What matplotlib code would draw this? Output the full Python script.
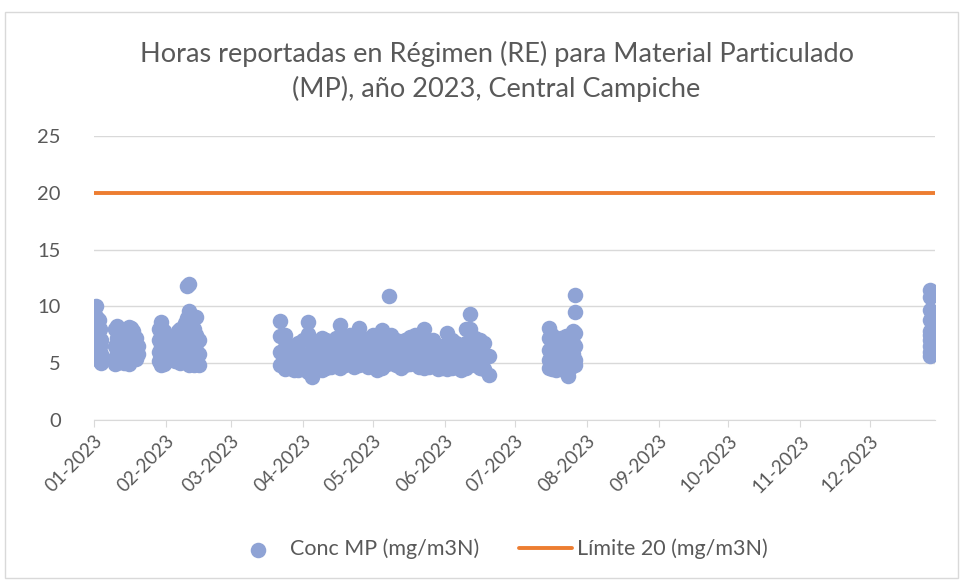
import matplotlib.pyplot as plt
import matplotlib.dates as mdates
import pandas as pd
from matplotlib.patches import Rectangle

plt.rcParams['font.family'] = ['Lato', 'DejaVu Sans']

# dias desde 01-01-2023 y concentracion MP (mg/m3N)
dias_ene = [0.5, 0.5, 0.5, 0.5, 0.5, 1, 1, 1, 1, 1, 1.5, 1.5, 1.5, 1.5,
            2, 2, 2, 2, 2.5, 2.5, 2.5, 3, 3, 3]
conc_ene = [9.2, 8.0, 7.0, 6.0, 5.8, 10.0, 8.5, 7.5, 6.5, 5.5, 9.0, 7.8, 6.8, 5.6,
            8.8, 7.2, 6.2, 5.3, 8.0, 6.5, 5.2, 7.0, 5.8, 5.0]

dias_ene2 = [9, 9, 9, 9, 10, 10, 10, 10, 11, 11, 11, 12, 12, 12, 13, 13, 13,
             14, 14, 14, 15, 15, 15, 15, 16, 16, 16, 17, 17, 17, 18, 18, 18, 19, 19]
conc_ene2 = [8.0, 6.5, 5.5, 4.9, 8.3, 7.2, 6.0, 5.0, 7.5, 6.2, 5.2, 7.8, 6.8, 5.6, 7.0, 6.0, 5.0,
             7.6, 6.4, 5.3, 8.2, 7.0, 5.8, 4.9, 8.1, 6.6, 5.5, 7.8, 6.8, 5.6, 7.2, 6.0, 5.4, 6.5, 5.8]

dias_feb = [28, 28, 28, 28, 29, 29, 29, 29, 29, 30, 30, 30, 30, 31, 31]
conc_feb = [8.0, 7.0, 6.0, 5.2, 8.6, 7.5, 6.5, 5.5, 4.8, 7.8, 6.8, 5.8, 4.9, 7.0, 5.6]

dias_feb2 = [35, 35, 35, 36, 36, 36, 37, 37, 37, 37, 38, 38, 38, 39, 39, 39, 39,
             40, 40, 40, 40, 40, 41, 41, 41, 41, 41, 41, 42, 42, 42, 42,
             43, 43, 43, 43, 44, 44, 44, 44, 45, 45, 45]
conc_feb2 = [7.2, 6.2, 5.2, 7.8, 6.6, 5.5, 8.0, 7.0, 5.8, 5.0, 7.2, 6.3, 5.4, 8.5, 7.4, 6.0, 5.1,
             11.8, 9.0, 7.6, 6.4, 5.2, 12.0, 9.6, 8.2, 7.0, 5.8, 4.8, 8.6, 7.3, 6.0, 5.0,
             8.0, 7.0, 6.2, 4.8, 9.1, 7.5, 6.2, 5.2, 7.0, 5.8, 4.8]

dias_abr = [80, 80, 80, 80, 82, 82, 82, 82, 84, 84, 84, 86, 86, 86, 88, 88, 88, 88,
            90, 90, 90, 92, 92, 92, 92, 94, 94, 94, 96, 96, 96, 98, 98, 98, 98,
            100, 100, 100, 102, 102, 102, 104, 104, 104, 106, 106, 106, 106,
            108, 108, 108, 110, 110, 110, 112, 112, 112, 114, 114, 114, 114,
            116, 116, 116, 118, 118, 118, 120, 120, 120, 122, 122, 122, 124, 124, 124, 124,
            126, 126, 126, 127, 128, 128, 128, 130, 130, 130, 132, 132, 132,
            134, 134, 134, 136, 136, 136, 138, 138, 138, 140, 140, 140, 142, 142, 142, 142,
            144, 144, 144, 146, 146, 146, 148, 148, 148, 150, 150, 150, 152, 152, 152, 152,
            154, 154, 154, 156, 156, 156, 158, 158, 158, 160, 160, 160, 160,
            162, 162, 162, 162, 164, 164, 164, 166, 166, 166, 168, 168, 168, 170, 170]
conc_abr = [8.7, 7.4, 6.0, 4.8, 7.5, 6.4, 5.4, 4.5, 6.6, 5.6, 4.6, 6.5, 5.5, 4.4, 6.8, 5.8, 5.0, 4.4,
            7.0, 5.6, 4.5, 8.6, 7.6, 5.8, 4.2, 6.8, 5.5, 3.8, 6.4, 5.4, 4.5, 7.2, 6.2, 5.2, 4.4,
            7.0, 5.8, 4.6, 6.6, 5.6, 4.7, 7.2, 6.0, 4.8, 8.4, 7.2, 5.8, 4.6,
            7.0, 5.8, 4.8, 7.5, 6.2, 4.9, 6.8, 5.6, 4.7, 8.1, 7.0, 5.8, 4.8,
            7.2, 6.0, 4.9, 7.0, 5.8, 4.7, 7.5, 6.2, 4.8, 6.8, 5.6, 4.4, 7.9, 6.8, 5.6, 4.6,
            7.2, 6.0, 4.9, 10.9, 7.5, 6.2, 5.0, 7.0, 5.8, 4.8, 6.8, 5.6, 4.6,
            7.0, 5.8, 4.8, 7.3, 6.0, 4.9, 7.5, 6.2, 5.0, 6.8, 5.7, 4.7, 8.0, 7.0, 5.8, 4.6,
            6.8, 5.6, 4.7, 7.0, 5.8, 4.8, 6.2, 5.3, 4.5, 6.5, 5.5, 4.6, 7.7, 6.6, 5.4, 4.5,
            7.0, 5.8, 4.6, 6.8, 5.6, 4.7, 6.5, 5.4, 4.4, 8.0, 6.8, 5.6, 4.6,
            9.3, 8.0, 6.4, 5.0, 7.2, 6.0, 4.8, 7.0, 5.8, 4.6, 6.8, 5.6, 4.5, 5.6, 4.0]

dias_jul = [196, 196, 196, 196, 196, 197, 197, 197, 197, 198, 198, 198, 199, 199, 199, 199,
            200, 200, 200, 201, 201, 201, 201, 202, 202, 202, 203, 203, 203, 203,
            204, 204, 204, 204, 205, 205, 205, 205, 206, 206, 206, 206,
            207, 207, 207, 207, 207, 207]
conc_jul = [8.1, 7.2, 6.2, 5.3, 4.6, 7.5, 6.5, 5.5, 4.5, 6.8, 5.8, 4.8, 7.0, 6.0, 5.0, 4.4,
            6.8, 5.6, 4.6, 7.2, 6.3, 5.2, 4.5, 6.9, 5.9, 4.8, 7.4, 6.4, 5.4, 4.4,
            7.0, 6.0, 5.0, 3.9, 7.5, 6.6, 5.5, 4.6, 7.8, 6.8, 5.8, 4.8,
            11.0, 9.5, 7.7, 6.5, 5.3, 4.8]

dias_dic = [360, 360, 360, 360, 360, 360, 360, 360, 360, 360]
conc_dic = [11.4, 10.8, 9.7, 8.8, 7.8, 7.5, 7.0, 6.5, 6.0, 5.6]

dias = dias_ene + dias_ene2 + dias_feb + dias_feb2 + dias_abr + dias_jul + dias_dic
conc = conc_ene + conc_ene2 + conc_feb + conc_feb2 + conc_abr + conc_jul + conc_dic

inicio = pd.Timestamp('2023-01-01')
fechas = inicio + pd.to_timedelta(dias, unit='D')

limite = 20
lim_fechas = [inicio, pd.Timestamp('2023-12-29')]

gris = '#595959'

fig = plt.figure(figsize=(9.66, 5.84), dpi=100)
fig.patches.append(Rectangle((5 / 966, 6 / 584), 953 / 966, 566 / 584, transform=fig.transFigure,
                             fill=False, edgecolor='#d9d9d9', linewidth=1))
ax = fig.add_axes([94 / 966, 1 - 420 / 584, 841 / 966, 284 / 584])

ax.scatter(fechas, conc, s=125, color='#8FA3D5', linewidths=0, zorder=3,
           label='Conc MP (mg/m3N)')
ax.plot(lim_fechas, [limite, limite], color='#ED7D31', linewidth=2.8, zorder=2,
        solid_capstyle='round', label='Límite 20 (mg/m3N)')

ax.set_xlim(lim_fechas)
ax.set_ylim(0, 25)
ax.set_yticks([0, 5, 10, 15, 20, 25])
ax.yaxis.grid(True, color='#d9d9d9', linewidth=1)
ax.set_axisbelow(True)

ax.xaxis.set_major_locator(mdates.MonthLocator())
ax.xaxis.set_major_formatter(mdates.DateFormatter('%m-%Y'))
plt.setp(ax.get_xticklabels(), rotation=45, ha='right', rotation_mode='anchor')

for s in ['top', 'right', 'left']:
    ax.spines[s].set_visible(False)
ax.spines['bottom'].set_color('#d9d9d9')
ax.tick_params(axis='x', colors='#d9d9d9', labelcolor=gris, labelsize=13.5, length=5, pad=4)
ax.tick_params(axis='y', length=0, labelcolor=gris, labelsize=14.5, pad=24)

fig.text(0.514, 0.877, 'Horas reportadas en Régimen (RE) para Material Particulado\n(MP), año 2023, Central Campiche',
         ha='center', va='center', fontsize=19.5, color=gris, linespacing=1.42)

fig.legend(loc='center', bbox_to_anchor=(0.517, 1 - 549 / 584), ncol=2, frameon=False,
           fontsize=15.5, labelcolor=gris, handlelength=2.5, columnspacing=1.85, handletextpad=0.2)

fig.savefig('out.png', dpi=100)
